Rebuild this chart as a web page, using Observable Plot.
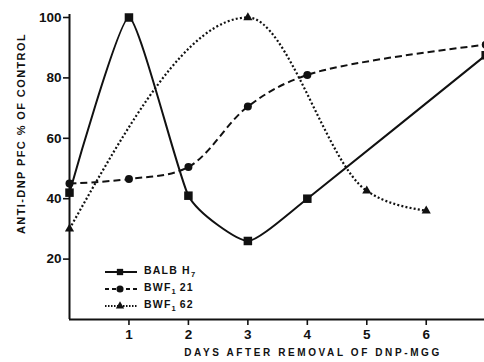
<!DOCTYPE html>
<html>
<head>
<meta charset="utf-8">
<script src="https://cdn.jsdelivr.net/npm/d3@7"></script>
<script src="https://cdn.jsdelivr.net/npm/@observablehq/plot@0.6"></script>
<style>
  html, body { margin: 0; padding: 0; background: #fff; }
  #wrap { position: relative; width: 484px; height: 362px; font-family: "Liberation Sans", Arial, sans-serif; }
  #legend { position: absolute; left: 104px; top: 263px; font-weight: bold; font-size: 10.5px; letter-spacing: 1.2px; color: #111; }
  #legend .row { display: flex; align-items: center; height: 17px; }
  #legend svg { margin-right: 6px; }
  sub { font-size: 7.5px; vertical-align: -3px; letter-spacing: 0; }
</style>
</head>
<body>
<div id="wrap">
  <div id="chart"></div>
  <div id="legend"></div>
</div>
<script>
// Data
const balbDays = [0, 1, 2, 3, 4, 7];
const balbValues = [42, 100, 41, 26, 40, 87.5];
const bwf21Days = [0, 1, 2, 3, 4, 7];
const bwf21Values = [45, 46.5, 50.5, 70.5, 81, 91];
const bwf62Days = [0, 3, 5, 6];
const bwf62Values = [30, 100, 42.6, 36];
const xTicks = [1, 2, 3, 4, 5, 6];
const yTicks = [20, 40, 60, 80, 100];
const xLabel = "DAYS AFTER REMOVAL OF DNP-MGG";
const yLabel = "ANTI-DNP PFC % OF CONTROL";
const seriesNames = ["BALB H|7", "BWF|1| 21", "BWF|1| 62"];

const toRows = (days, vals) => days.map((d, i) => ({day: d, value: vals[i]}));
const balb = toRows(balbDays, balbValues);
const bwf21 = toRows(bwf21Days, bwf21Values);
const bwf62 = toRows(bwf62Days, bwf62Values);

const ink = "#111";
const chart = Plot.plot({
  width: 484,
  height: 362,
  marginLeft: 69,
  marginRight: 0,
  marginTop: 17,
  marginBottom: 43,
  style: {fontFamily: "Liberation Sans, Arial, sans-serif", fontWeight: "bold", color: ink, background: "#fff"},
  x: {domain: [0, 6.98]},
  y: {domain: [0, 100]},
  marks: [
    Plot.axisX({ticks: xTicks, tickFormat: d => d, tickSize: 6, tickPadding: 4, fontSize: 13.5, label: null, strokeWidth: 1.6}),
    Plot.axisY({ticks: yTicks, tickFormat: d => d, tickSize: 6, tickPadding: 2, fontSize: 13.5, label: null, strokeWidth: 1.6}),
    Plot.text([xLabel], {frameAnchor: "bottom", textAnchor: "middle", dx: 36, dy: 36, fontSize: 10, fontWeight: "bold", fill: ink}),
    Plot.text([yLabel], {frameAnchor: "left", textAnchor: "middle", rotate: -90, dx: -48, dy: -35, fontSize: 11, fontWeight: "bold", fill: ink}),
    Plot.ruleX([0], {y1: 0, y2: 101, stroke: ink, strokeWidth: 2}),
    Plot.ruleY([0], {stroke: ink, strokeWidth: 2}),
    Plot.line(balb, {x: "day", y: "value", curve: "cardinal", tension: 0.5, stroke: ink, strokeWidth: 2}),
    Plot.line(bwf21, {x: "day", y: "value", curve: "catmull-rom", stroke: ink, strokeWidth: 2, strokeDasharray: "7,4", strokeLinecap: "butt"}),
    Plot.line(bwf62, {x: "day", y: "value", curve: "monotone-x", stroke: ink, strokeWidth: 2.2, strokeDasharray: "2,2.2", strokeLinecap: "butt"}),
    Plot.dot(balb, {x: "day", y: "value", symbol: "square", r: 4.8, fill: ink}),
    Plot.dot(bwf21, {x: "day", y: "value", symbol: "circle", r: 4, fill: ink}),
    Plot.dot(bwf62, {x: "day", y: "value", symbol: "triangle", r: 3.4, fill: ink})
  ]
});
chart.querySelectorAll("text").forEach(t => {
  if (t.textContent === xLabel) t.style.letterSpacing = "2.6px";
  if (t.textContent === yLabel) t.style.letterSpacing = "1.4px";
});
document.getElementById("chart").append(chart);

// Legend
const legendSpecs = [
  {dash: null, sym: "square", size: 40},
  {dash: "4,3", sym: "circle", size: 40},
  {dash: "1.5,1.5", sym: "triangle", size: 30}
];
const legend = document.getElementById("legend");
const symMap = {square: d3.symbolSquare, circle: d3.symbolCircle, triangle: d3.symbolTriangle};
seriesNames.forEach((name, i) => {
  const spec = legendSpecs[i];
  const row = document.createElement("div");
  row.className = "row";
  const s = d3.create("svg").attr("width", 34).attr("height", 12);
  s.append("line").attr("x1", 1).attr("x2", 33).attr("y1", 6).attr("y2", 6)
    .attr("stroke", ink).attr("stroke-width", 2).attr("stroke-dasharray", spec.dash);
  s.append("path").attr("transform", "translate(16,6)")
    .attr("d", d3.symbol(symMap[spec.sym], spec.size)()).attr("fill", ink);
  row.append(s.node());
  const label = document.createElement("span");
  const parts = name.split("|");
  parts.forEach((p, j) => {
    if (j % 2 === 1) { const sb = document.createElement("sub"); sb.textContent = p; label.append(sb); }
    else label.append(document.createTextNode(p));
  });
  row.append(label);
  legend.append(row);
});
</script>
</body>
</html>
